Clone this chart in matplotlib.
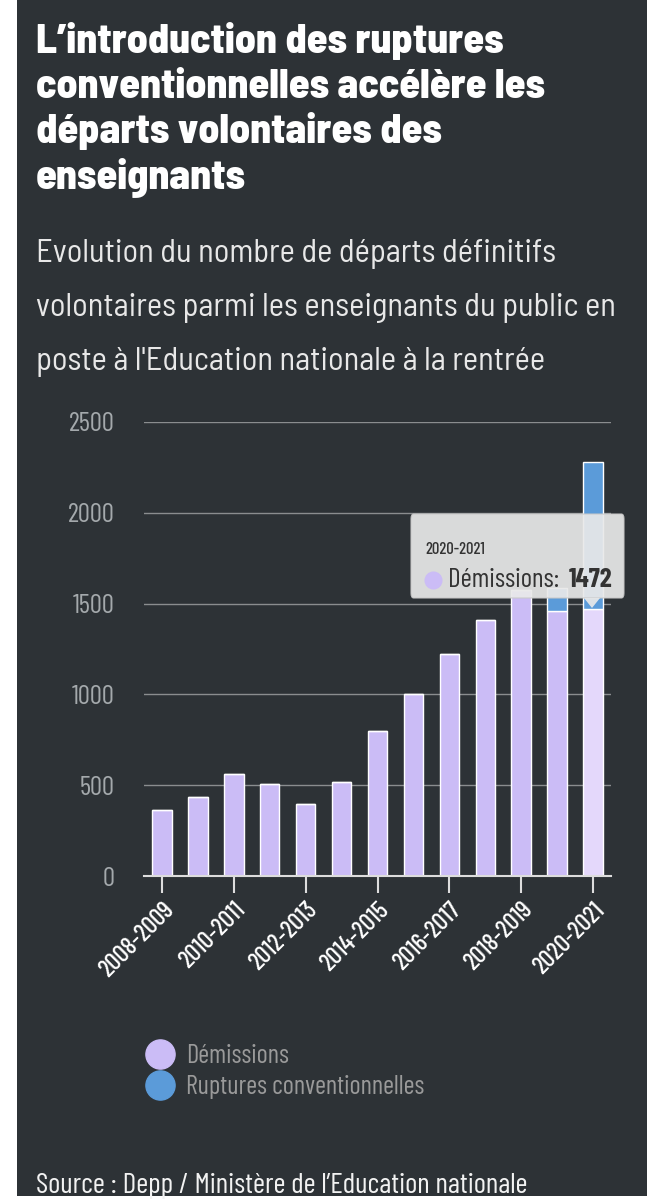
import matplotlib
matplotlib.use("Agg")
import matplotlib.pyplot as plt
from matplotlib.lines import Line2D
from matplotlib.patches import FancyBboxPatch, Polygon, Rectangle
from matplotlib.transforms import ScaledTranslation
import numpy as np

# data
years = ["2008-2009", "2009-2010", "2010-2011", "2011-2012", "2012-2013",
         "2013-2014", "2014-2015", "2015-2016", "2016-2017", "2017-2018",
         "2018-2019", "2019-2020", "2020-2021"]
demissions = [366, 436, 559, 507, 396, 518, 800, 1004, 1225, 1408, 1575, 1460, 1472]
ruptures = [0, 0, 0, 0, 0, 0, 0, 0, 0, 0, 0, 128, 808]
yticks = [0, 500, 1000, 1500, 2000, 2500]

BG = "#2d3236"
LILAC = "#cbbcf6"
LILAC_HI = "#e4d8fb"
BLUE = "#5b9bd9"
FONT = ["Barlow Condensed", "DejaVu Sans"]
FONT_SEMI = ["Barlow Semi Condensed", "DejaVu Sans"]

W, H = 664, 1200
fig = plt.figure(figsize=(W / 100, H / 100), dpi=100, facecolor="white")

def fx(px):
    return px / W

def fy(py):
    return 1 - py / H

# dark panel
fig.patches.append(Rectangle((fx(17), fy(1196)), fx(630), 1196 / H,
                             transform=fig.transFigure, facecolor=BG,
                             edgecolor="none", zorder=-5))

# title
title = ["L\u2019introduction des ruptures", "conventionnelles accélère les",
         "départs volontaires des", "enseignants"]
for i, line in enumerate(title):
    fig.text(fx(36), fy(53 + i * 45), line, color="white", fontsize=30,
             fontweight=800, family=FONT_SEMI, va="baseline", ha="left")

subtitle = ["Evolution du nombre de départs définitifs",
            "volontaires parmi les enseignants du public en",
            "poste à l'Education nationale à la rentrée"]
for i, line in enumerate(subtitle):
    fig.text(fx(36), fy(262 + i * 54), line, color="#e8e8e8", fontsize=23.4,
             family=FONT_SEMI, va="baseline", ha="left")

ax = fig.add_axes([fx(144), fy(876), fx(611) - fx(144), (876 - 422) / H])
ax.set_facecolor("none")
x = np.arange(len(years))
dem_colors = [LILAC] * (len(years) - 1) + [LILAC_HI]
ax.bar(x, demissions, width=0.54, color=dem_colors, edgecolor="white",
       linewidth=1, zorder=3)
ax.bar(x, ruptures, bottom=demissions, width=0.54, color=BLUE,
       edgecolor="white", linewidth=1, zorder=3)

ax.set_xlim(-0.5, len(years) - 0.5)
ax.set_ylim(0, 2500)
ax.set_yticks(yticks)
ax.set_yticklabels([str(v) for v in yticks], color="#a4a9ac", fontsize=19.5,
                   family=FONT)
ax.tick_params(axis="y", length=0, pad=21)
ax.grid(axis="y", color="#8a8d8f", linewidth=1, zorder=1)
ax.set_xticks(x[::2])
ax.set_xticklabels(years[::2], rotation=45, ha="right", va="top",
                   rotation_mode="anchor", color="white", fontsize=18,
                   fontweight="medium", family=FONT)
shift = ScaledTranslation(-0.06, 0, fig.dpi_scale_trans)
for lab in ax.get_xticklabels():
    lab.set_transform(lab.get_transform() + shift)
ax.tick_params(axis="x", length=12, width=1.5, color="#dddddd", pad=4)
for s in ["top", "right", "left"]:
    ax.spines[s].set_visible(False)
ax.spines["bottom"].set_color("#dddddd")
ax.spines["bottom"].set_linewidth(1.5)
ax.spines["bottom"].set_zorder(4)

# tooltip for the hovered bar
tip = FancyBboxPatch((fx(411), fy(598)), fx(213), 84 / H,
                     boxstyle="round,pad=0,rounding_size=0.004",
                     transform=fig.transFigure, facecolor="#e9e9e9",
                     edgecolor="#c8c8c8", linewidth=0.8, alpha=0.92, zorder=10)
fig.patches.append(tip)
fig.patches.append(Polygon([(fx(584), fy(598)), (fx(600), fy(598)),
                            (fx(592), fy(608))], closed=True,
                           transform=fig.transFigure, facecolor="#e9e9e9",
                           alpha=0.92, edgecolor="none", zorder=10))
fig.text(fx(425), fy(549), years[-1], color="#333333", fontsize=12,
         fontweight="medium", family=FONT, va="center", zorder=11)
fig.lines.append(Line2D([fx(433)], [fy(580)], marker="o", markersize=12,
                        color=LILAC, transform=fig.transFigure, zorder=11))
fig.text(fx(448), fy(580), "Démissions:", color="#333333", fontsize=19.5,
         family=FONT, va="center", zorder=11)
fig.text(fx(612), fy(580), f"{demissions[-1]}", color="#333333", fontsize=19.5,
         fontweight="bold", family=FONT, va="center", ha="right", zorder=11)

# legend
handles = [Line2D([], [], marker="o", linestyle="none", markersize=21,
                  markerfacecolor=LILAC, markeredgecolor=LILAC),
           Line2D([], [], marker="o", linestyle="none", markersize=21,
                  markerfacecolor=BLUE, markeredgecolor=BLUE)]
fig.legend(handles, ["Démissions", "Ruptures conventionnelles"],
           loc="upper left", bbox_to_anchor=(fx(131), fy(1031)),
           frameon=False, labelcolor="#9a9a9a",
           prop={"family": FONT, "size": 19}, handletextpad=0.4,
           labelspacing=0.25, borderpad=0, handlelength=1.2)

fig.text(fx(36), fy(1193), "Source : Depp / Ministère de l\u2019Education nationale",
         color="#f2f2f2", fontsize=21, family=FONT, va="baseline")

fig.savefig("out.png", dpi=100, facecolor="white")
